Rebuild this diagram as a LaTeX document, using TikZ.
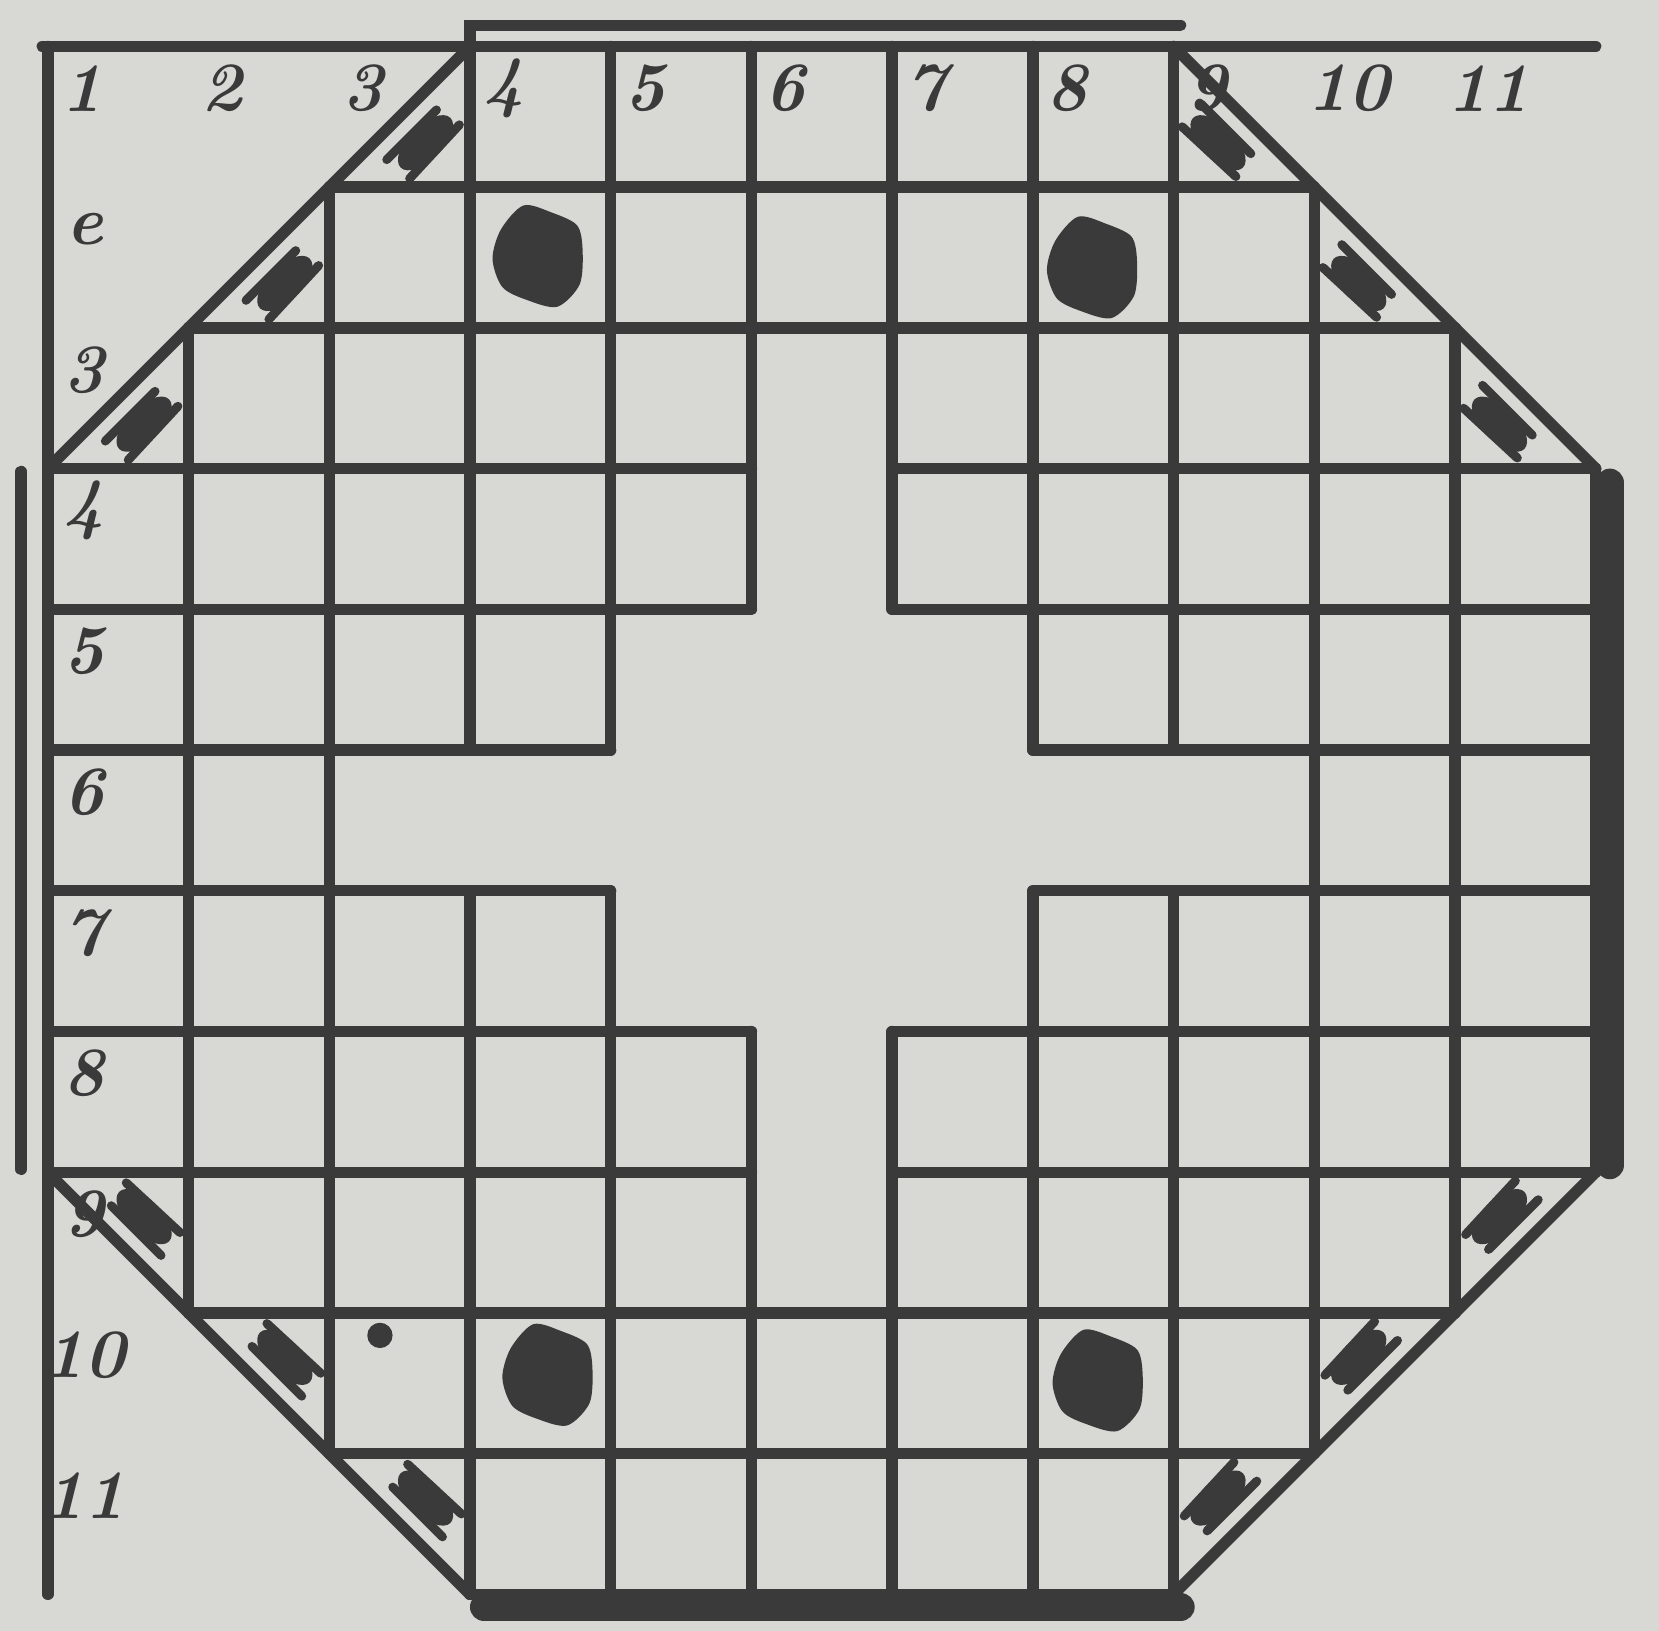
\documentclass[tikz,border=0pt]{standalone}
\usepackage{tikz}
\usetikzlibrary{calc}
\definecolor{cPaper}{RGB}{216,216,213}
\definecolor{cInk}{RGB}{58,58,58}
\tikzset{
	gridline/.style={draw=cInk, line width=2.3pt, line cap=round},
	edgebar/.style={draw=cInk, line width=0.2cm, line cap=round},
	axislabel/.style={text=cInk, font=\fontsize{14}{16}\selectfont\bfseries\itshape, inner sep=0pt},
	hatchstroke/.style={draw=cInk, line width=1.8pt, line cap=round},
}
% dark playing piece (irregular blob)
\newcommand{\boardpiece}[2]{%
	\fill[cInk, shift={(#1,#2)}] plot[smooth cycle] coordinates {(0.30,0.05) (0.26,0.22) (0.08,0.31) (-0.12,0.36) (-0.28,0.19) (-0.34,-0.02) (-0.27,-0.22) (-0.10,-0.31) (0.12,-0.36) (0.28,-0.20)};}
% scribbled corner triangle
\newcommand{\cornermark}[3]{%
	\begin{scope}[shift={(#1,#2)}, rotate=#3]
		\fill[cInk] (0,-0.02) ellipse [x radius=0.25, y radius=0.12];
		\draw[hatchstroke] (-0.28,0.09) -- (0.22,0.09);
		\draw[hatchstroke] (-0.26,-0.12) -- (0.26,-0.1);
	\end{scope}}

\begin{document}
\begin{tikzpicture}
	\useasboundingbox[fill=cPaper] (-0.34,0.33) rectangle (11.45,-11.26);

	% horizontal lines
	\foreach \r/\a/\b in {0/-0.04/11, 1/2/9, 2/1/10, 3/0/5, 3/6/11, 4/0/5, 4/6/11, 5/0/4, 5/7/11, 6/0/4, 6/7/11, 7/0/5, 7/6/11, 8/0/5, 8/6/11, 9/1/10, 10/2/9, 11/3/8}
		\draw[gridline] (\a,-\r) -- (\b,-\r);
	% vertical lines
	\foreach \c/\a/\b in {0/0/11, 1/2/9, 2/1/10, 3/0/5, 3/6/11, 4/0/5, 4/6/11, 5/0/4, 5/7/11, 6/0/4, 6/7/11, 7/0/5, 7/6/11, 8/0/5, 8/6/11, 9/1/10, 10/2/9, 11/3/8}
		\draw[gridline] (\c,-\a) -- (\c,-\b);

	% octagon corners
	\draw[gridline] (0,-3) -- (3,0);
	\draw[gridline] (8,0) -- (11,-3);
	\draw[gridline] (0,-8) -- (3,-11);
	\draw[gridline] (11,-8) -- (8,-11);

	% side markings
	\draw[gridline] (3,0) -- (3,0.15) -- (8.05,0.15);
	\draw[gridline] (-0.19,-3.02) -- (-0.19,-7.98);
	\draw[edgebar] (11.1,-3.1) -- (11.1,-7.95);
	\draw[edgebar] (3.1,-11.09) -- (8.05,-11.09);

	% corner triangles
	\foreach \x/\y/\ang in {2.67/-0.67/45, 1.67/-1.67/45, 0.67/-2.67/45,
		8.33/-0.67/-45, 9.33/-1.67/-45, 10.33/-2.67/-45,
		0.67/-8.33/135, 1.67/-9.33/135, 2.67/-10.33/135,
		10.33/-8.33/-135, 9.33/-9.33/-135, 8.33/-10.33/-135}
		\cornermark{\x}{\y}{\ang};

	% pieces
	\boardpiece{3.5}{-1.49}
	\boardpiece{7.44}{-1.57}
	\boardpiece{3.57}{-9.44}
	\boardpiece{7.48}{-9.48}
	\fill[cInk] (2.36,-9.16) circle (0.09);

	% column and row numbers
	\foreach \k in {1,...,11}
		\node[axislabel] (col\k) at (\k-0.76,-0.3) {\k};
	\foreach \k/\t in {2/e, 3/3, 4/4, 5/5, 6/6, 7/7, 8/8, 9/9, 10/10, 11/11}
		\node[axislabel] (row\k) at (0.26,0.7-\k) {\t};
\end{tikzpicture}
\end{document}
